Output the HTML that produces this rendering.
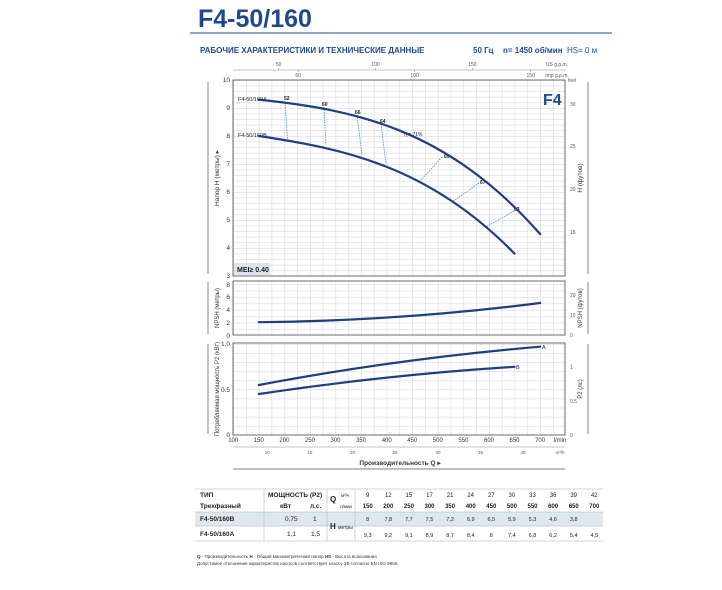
<!DOCTYPE html>
<html><head><meta charset="utf-8"><style>
body{margin:0;background:#fff;}
svg{display:block;font-family:"Liberation Sans",sans-serif;}
</style></head><body>
<svg width="722" height="590" viewBox="0 0 722 590" xmlns="http://www.w3.org/2000/svg">
<defs>
<pattern id="gv" x="233.2" y="0" width="12.79" height="600" patternUnits="userSpaceOnUse"><line x1="0.3" y1="0" x2="0.3" y2="600" stroke="#d6d9de" stroke-width="0.6"/></pattern>
<pattern id="gh1" x="0" y="80" width="800" height="5.6" patternUnits="userSpaceOnUse"><line x1="0" y1="0.3" x2="800" y2="0.3" stroke="#d6d9de" stroke-width="0.6"/></pattern>
<pattern id="gh2" x="0" y="284.2" width="800" height="6.4" patternUnits="userSpaceOnUse"><line x1="0" y1="0.3" x2="800" y2="0.3" stroke="#d6d9de" stroke-width="0.6"/></pattern>
<pattern id="gh3" x="0" y="344" width="800" height="9.1" patternUnits="userSpaceOnUse"><line x1="0" y1="0.3" x2="800" y2="0.3" stroke="#d6d9de" stroke-width="0.6"/></pattern>
</defs>
<text x="198" y="27" font-size="25" font-weight="bold" fill="#1e4a8c">F4-50/160</text>
<line x1="190" y1="33" x2="612" y2="33" stroke="#1e4a8c" stroke-width="1"/>
<text x="200" y="53" font-size="8" font-weight="bold" fill="#1e4a8c">РАБОЧИЕ ХАРАКТЕРИСТИКИ И ТЕХНИЧЕСКИЕ ДАННЫЕ</text>
<text x="473" y="53" font-size="8" font-weight="bold" fill="#1e4a8c">50 Гц</text>
<text x="503" y="53" font-size="8" font-weight="bold" fill="#1e4a8c">n= 1450 об/мин</text>
<text x="567" y="53" font-size="8" fill="#1e4a8c">HS= 0 м</text>

<line x1="233" y1="70" x2="565" y2="70" stroke="#888" stroke-width="0.5"/>
<g font-size="5" fill="#555" text-anchor="middle">
<text x="278.7" y="66">50</text><text x="375.6" y="66">100</text><text x="472.4" y="66">150</text><text x="557" y="66">US g.p.m.</text>
<text x="298.2" y="77">50</text><text x="414.6" y="77">100</text><text x="530.7" y="77">150</text><text x="557" y="77">Imp g.p.m.</text>
</g>
<g stroke="#777" stroke-width="0.5">
<line x1="278.7" y1="68" x2="278.7" y2="70"/><line x1="375.6" y1="68" x2="375.6" y2="70"/><line x1="472.4" y1="68" x2="472.4" y2="70"/>
<line x1="298.2" y1="70" x2="298.2" y2="72"/><line x1="414.6" y1="70" x2="414.6" y2="72"/><line x1="530.7" y1="70" x2="530.7" y2="72"/>
</g>

<rect x="233" y="80" width="332" height="196" fill="url(#gh1)"/>
<rect x="233" y="80" width="332" height="196" fill="url(#gv)"/>
<rect x="233" y="80" width="332" height="196" fill="none" stroke="#444" stroke-width="0.8"/>
<g font-size="6.5" fill="#333" text-anchor="end">
<text x="230" y="82">10</text><text x="230" y="110">9</text><text x="230" y="138">8</text><text x="230" y="166">7</text><text x="230" y="194">6</text><text x="230" y="222">5</text><text x="230" y="250">4</text><text x="230" y="278">3</text>
</g>
<g font-size="5" fill="#555">
<text x="568" y="82">feet</text><text x="570" y="106">30</text><text x="570" y="148">25</text><text x="570" y="191">20</text><text x="570" y="234">15</text>
</g>
<text x="543" y="105" font-size="16" font-weight="bold" fill="#1e4a8c">F4</text>
<rect x="234" y="263" width="36" height="12" fill="#dde3ee"/>
<text x="237" y="272" font-size="7" font-weight="bold" fill="#222">MEI≥ 0.40</text>
<line x1="208" y1="82" x2="208" y2="274" stroke="#999" stroke-width="1.2"/>
<line x1="588" y1="82" x2="588" y2="274" stroke="#999" stroke-width="1.2"/>
<text transform="translate(219,178) rotate(-90)" font-size="6.5" fill="#333" text-anchor="middle">Напор H (метры) ▸</text>
<text transform="translate(582,178) rotate(-90)" font-size="6.5" fill="#333" text-anchor="middle">H (футов)</text>

<g stroke="#3a8fd0" stroke-width="0.8" stroke-dasharray="1.5,1" fill="none">
<line x1="285" y1="102" x2="287.5" y2="139"/>
<line x1="324" y1="107" x2="326" y2="145"/>
<line x1="357" y1="115" x2="362" y2="155"/>
<line x1="381" y1="124" x2="386" y2="164"/>
<path d="M442 157 Q430 170 420 181"/>
<path d="M479 183 Q465 193 452 202"/>
<path d="M514 211 Q500 219 486 227"/>
</g>
<g font-size="5" font-weight="bold" fill="#222">
<text x="284" y="100">52</text><text x="322" y="106">60</text><text x="355" y="114">66</text><text x="380" y="123">64</text>
<text x="404" y="136" font-weight="normal">η = 71%</text>
<text x="444" y="158">69</text><text x="480" y="184">67</text><text x="514" y="211">63</text>
</g>
<text x="238" y="101" font-size="5.5" fill="#222">F4-50/160A</text>
<text x="238" y="137" font-size="5.5" fill="#222">F4-50/160B</text>
<g stroke="#1f3f7f" stroke-width="2.2" fill="none" stroke-linecap="round">
<path d="M258.8,99.6 C352.6,109.6 446,127 540.1,234"/>
<path d="M258.8,136 C344,148.8 429,166.1 514.5,253.6"/>
</g>

<rect x="233" y="281" width="332" height="54" fill="url(#gh2)"/>
<rect x="233" y="281" width="332" height="54" fill="url(#gv)"/>
<rect x="233" y="281" width="332" height="54" fill="none" stroke="#444" stroke-width="0.8"/>
<g font-size="6.5" fill="#333" text-anchor="end">
<text x="230" y="287">8</text><text x="230" y="299">6</text><text x="230" y="312">4</text><text x="230" y="325">2</text><text x="230" y="338">0</text>
</g>
<g font-size="5" fill="#555"><text x="570" y="297">20</text><text x="570" y="317">10</text><text x="570" y="337">0</text></g>
<line x1="208" y1="282" x2="208" y2="334" stroke="#999" stroke-width="1.2"/>
<line x1="588" y1="282" x2="588" y2="334" stroke="#999" stroke-width="1.2"/>
<text transform="translate(219,308) rotate(-90)" font-size="6" fill="#333" text-anchor="middle">NPSH (метры)</text>
<text transform="translate(582,308) rotate(-90)" font-size="6" fill="#333" text-anchor="middle">NPSH (футов)</text>
<path d="M258.8,322.2 Q399.4,320.9 540.1,303" stroke="#1f3f7f" stroke-width="2.2" fill="none" stroke-linecap="round"/>

<rect x="233" y="343" width="332" height="92" fill="url(#gh3)"/>
<rect x="233" y="343" width="332" height="92" fill="url(#gv)"/>
<rect x="233" y="343" width="332" height="92" fill="none" stroke="#444" stroke-width="0.8"/>
<g font-size="6.5" fill="#333" text-anchor="end">
<text x="230" y="346">1.0</text><text x="230" y="392">0.5</text><text x="230" y="437">0</text>
</g>
<g font-size="5" fill="#555"><text x="570" y="369">1</text><text x="570" y="403">0.5</text><text x="570" y="437">0</text></g>
<line x1="208" y1="344" x2="208" y2="434" stroke="#999" stroke-width="1.2"/>
<line x1="588" y1="344" x2="588" y2="434" stroke="#999" stroke-width="1.2"/>
<text transform="translate(219,389) rotate(-90)" font-size="6" fill="#333" text-anchor="middle">Потребляемая мощность P2 (кВт)</text>
<text transform="translate(582,389) rotate(-90)" font-size="6" fill="#333" text-anchor="middle">P2 (лс)</text>
<g stroke="#1f3f7f" stroke-width="2.2" fill="none" stroke-linecap="round">
<path d="M258.8,385 Q399.4,358.6 540.1,346.7"/>
<path d="M258.8,394 Q386.7,374.9 514.5,366.8"/>
</g>
<text x="542" y="349" font-size="5.5" fill="#222">A</text>
<text x="516" y="369" font-size="5.5" fill="#222">B</text>

<g font-size="6" fill="#333" text-anchor="middle">
<text x="233.2" y="442">100</text><text x="258.8" y="442">150</text><text x="284.4" y="442">200</text><text x="309.9" y="442">250</text><text x="335.5" y="442">300</text><text x="361.1" y="442">350</text><text x="386.7" y="442">400</text><text x="412.2" y="442">450</text><text x="437.8" y="442">500</text><text x="463.4" y="442">550</text><text x="489" y="442">600</text><text x="514.5" y="442">650</text><text x="540.1" y="442">700</text><text x="560" y="442">l/min</text>
</g>
<line x1="233" y1="447" x2="565" y2="447" stroke="#888" stroke-width="0.5"/>
<g font-size="4.5" fill="#555" text-anchor="middle">
<text x="267.3" y="454">10</text><text x="310" y="454">15</text><text x="352.5" y="454">20</text><text x="395" y="454">25</text><text x="438" y="454">30</text><text x="480.5" y="454">35</text><text x="523" y="454">40</text><text x="560" y="454">m³/h</text>
</g>
<text x="400" y="465" font-size="6.5" font-weight="bold" fill="#333" text-anchor="middle">Производительность Q ▸</text>
<line x1="233" y1="469" x2="565" y2="469" stroke="#555" stroke-width="0.8"/>

<rect x="195" y="512" width="408" height="14" fill="#dfe7f0"/>
<g stroke="#aaa" stroke-width="0.5">
<line x1="195" y1="489" x2="603" y2="489"/>
<line x1="195" y1="512" x2="603" y2="512"/>
<line x1="195" y1="526" x2="603" y2="526"/>
<line x1="195" y1="541" x2="603" y2="541"/>
<line x1="264" y1="489" x2="264" y2="541"/>
<line x1="327" y1="489" x2="327" y2="541"/>
<line x1="355" y1="489" x2="355" y2="541"/>
</g>
<g font-size="6.5" fill="#222">
<text x="200" y="497" font-weight="bold">ТИП</text>
<text x="200" y="508" font-weight="bold">Трехфазный</text>
<text x="200" y="521" font-weight="bold">F4-50/160B</text>
<text x="200" y="536" font-weight="bold">F4-50/160A</text>
<text x="268" y="497" font-weight="bold">МОЩНОСТЬ (P2)</text>
<text x="280" y="508" font-weight="bold">кВт</text><text x="310" y="508" font-weight="bold">л.с.</text>
<text x="285" y="521">0,75</text><text x="313" y="521">1</text>
<text x="287" y="536">1,1</text><text x="311" y="536">1,5</text>
<text x="330" y="502" font-weight="bold" font-size="8">Q</text>
<text x="330" y="529" font-weight="bold" font-size="8">H</text>
<text x="338" y="529" font-size="5">метры</text>
<text x="341" y="497" font-size="4.5">м³/ч</text>
<text x="340" y="508" font-size="4.5">л/мин</text>
</g>
<g font-size="6" fill="#222" text-anchor="middle">
<text x="367.7" y="497">9</text><text x="388.3" y="497">12</text><text x="408.9" y="497">15</text><text x="429.5" y="497">17</text><text x="450.1" y="497">21</text><text x="470.7" y="497">24</text><text x="491.3" y="497">27</text><text x="511.9" y="497">30</text><text x="532.5" y="497">33</text><text x="553.1" y="497">36</text><text x="573.7" y="497">39</text><text x="594.3" y="497">42</text>
</g>
<g font-size="6" fill="#222" text-anchor="middle" font-weight="bold">
<text x="367.7" y="508">150</text><text x="388.3" y="508">200</text><text x="408.9" y="508">250</text><text x="429.5" y="508">300</text><text x="450.1" y="508">350</text><text x="470.7" y="508">400</text><text x="491.3" y="508">450</text><text x="511.9" y="508">500</text><text x="532.5" y="508">550</text><text x="553.1" y="508">600</text><text x="573.7" y="508">650</text><text x="594.3" y="508">700</text>
</g>
<g font-size="5.5" fill="#222" text-anchor="middle">
<text x="367.7" y="521">8</text><text x="388.3" y="521">7,8</text><text x="408.9" y="521">7,7</text><text x="429.5" y="521">7,5</text><text x="450.1" y="521">7,2</text><text x="470.7" y="521">6,9</text><text x="491.3" y="521">6,5</text><text x="511.9" y="521">5,9</text><text x="532.5" y="521">5,3</text><text x="553.1" y="521">4,6</text><text x="573.7" y="521">3,8</text>
<text x="367.7" y="537">9,3</text><text x="388.3" y="537">9,2</text><text x="408.9" y="537">9,1</text><text x="429.5" y="537">8,9</text><text x="450.1" y="537">8,7</text><text x="470.7" y="537">8,4</text><text x="491.3" y="537">8</text><text x="511.9" y="537">7,4</text><text x="532.5" y="537">6,8</text><text x="553.1" y="537">6,2</text><text x="573.7" y="537">5,4</text><text x="594.3" y="537">4,5</text>
</g>
<text x="197" y="558" font-size="4.5" fill="#333"><tspan font-weight="bold">Q</tspan> - Производительность  <tspan font-weight="bold">H</tspan> - Общий манометрический напор  <tspan font-weight="bold">HS</tspan> - Высота всасывания</text>
<text x="197" y="565" font-size="4.5" fill="#333">Допустимое отклонение характеристик насосов соответствует классу 3B согласно EN ISO 9906.</text>
</svg>
</body></html>
